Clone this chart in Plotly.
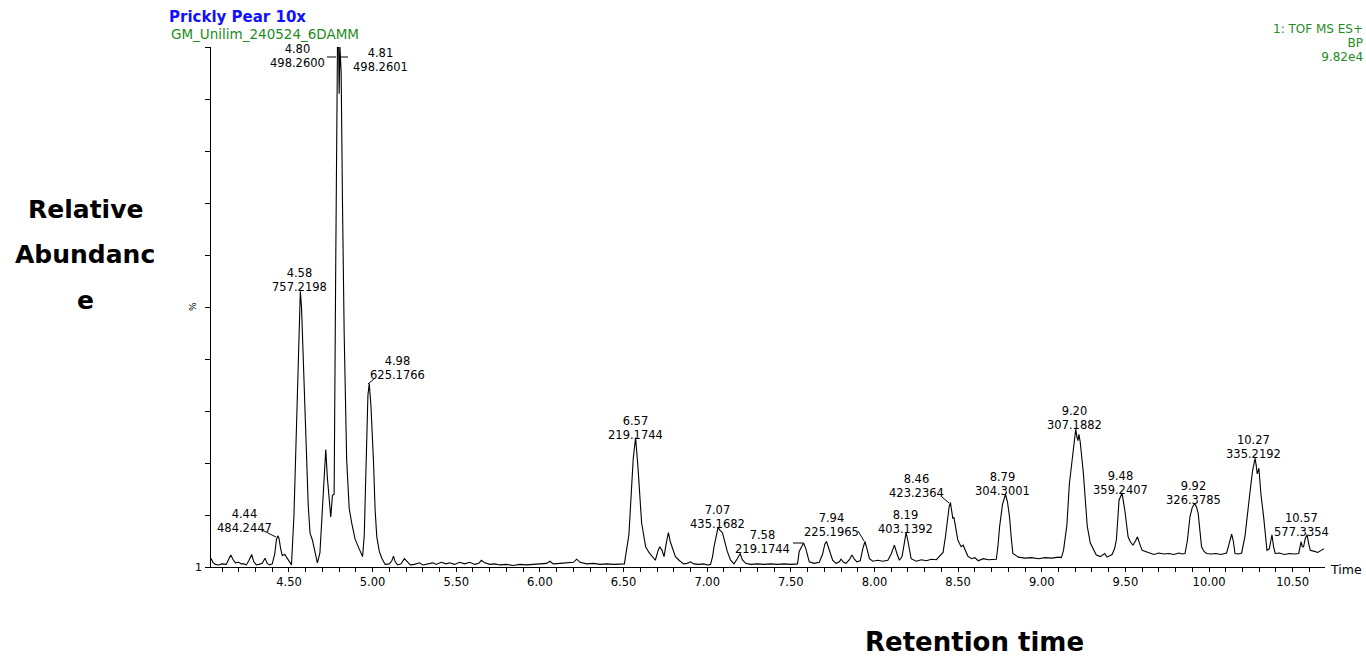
import plotly.graph_objects as go

# ---------------- data ----------------
rt = [4.034, 4.045, 4.06, 4.08, 4.10, 4.125, 4.14, 4.152, 4.165, 4.18, 4.20, 4.215, 4.23, 4.245,
      4.26, 4.277, 4.29, 4.305, 4.32, 4.34, 4.357, 4.37, 4.385, 4.40, 4.415, 4.425, 4.433, 4.44,
      4.45, 4.46, 4.475, 4.49, 4.505, 4.515, 4.53, 4.545, 4.558, 4.568, 4.575, 4.585, 4.60, 4.615,
      4.626, 4.64, 4.655, 4.67, 4.685, 4.70, 4.712, 4.72, 4.73, 4.745, 4.75, 4.76, 4.77, 4.78,
      4.79, 4.797, 4.80, 4.805, 4.812, 4.82, 4.83, 4.845, 4.86, 4.875, 4.895, 4.91, 4.925, 4.94,
      4.95, 4.96, 4.972, 4.98, 4.99, 5.005, 5.015, 5.025, 5.04, 5.055, 5.075, 5.10, 5.115, 5.125,
      5.135, 5.15, 5.17, 5.19, 5.205, 5.225, 5.25, 5.28, 5.30, 5.33, 5.36, 5.38, 5.41, 5.44, 5.46,
      5.49, 5.52, 5.55, 5.58, 5.61, 5.635, 5.65, 5.67, 5.70, 5.73, 5.76, 5.80, 5.84, 5.88, 5.92,
      5.96, 6.00, 6.04, 6.06, 6.08, 6.12, 6.16, 6.20, 6.22, 6.24, 6.28, 6.32, 6.36, 6.40, 6.44,
      6.48, 6.505, 6.532, 6.558, 6.572, 6.586, 6.608, 6.632, 6.652, 6.672, 6.69, 6.705, 6.716,
      6.73, 6.742, 6.755, 6.768, 6.78, 6.792, 6.81, 6.835, 6.86, 6.88, 6.90, 6.92, 6.95, 6.98,
      7.00, 7.02, 7.032, 7.041, 7.055, 7.065, 7.078, 7.091, 7.10, 7.105, 7.12, 7.14, 7.16, 7.18,
      7.197, 7.21, 7.23, 7.26, 7.30, 7.34, 7.38, 7.42, 7.46, 7.50, 7.54, 7.55, 7.562, 7.576, 7.59,
      7.61, 7.64, 7.67, 7.69, 7.703, 7.713, 7.725, 7.75, 7.77, 7.79, 7.80, 7.815, 7.83, 7.85,
      7.865, 7.88, 7.895, 7.915, 7.93, 7.943, 7.955, 7.97, 7.99, 8.02, 8.05, 8.08, 8.10, 8.119,
      8.135, 8.149, 8.165, 8.178, 8.189, 8.20, 8.219, 8.25, 8.28, 8.31, 8.34, 8.37, 8.398, 8.41,
      8.425, 8.434, 8.446, 8.454, 8.462, 8.468, 8.475, 8.485, 8.498, 8.508, 8.518, 8.53, 8.545,
      8.558, 8.58, 8.60, 8.62, 8.65, 8.68, 8.71, 8.728, 8.738, 8.748, 8.765, 8.783, 8.795, 8.807,
      8.818, 8.827, 8.86, 8.90, 8.94, 8.98, 9.02, 9.06, 9.10, 9.117, 9.13, 9.15, 9.165, 9.177,
      9.19, 9.203, 9.21, 9.216, 9.222, 9.23, 9.248, 9.26, 9.272, 9.29, 9.305, 9.326, 9.35, 9.376,
      9.39, 9.40, 9.42, 9.435, 9.446, 9.462, 9.48, 9.496, 9.506, 9.516, 9.53, 9.545, 9.56, 9.572,
      9.585, 9.60, 9.62, 9.64, 9.67, 9.70, 9.73, 9.76, 9.79, 9.82, 9.84, 9.856, 9.87, 9.886, 9.90,
      9.915, 9.925, 9.935, 9.945, 9.955, 9.97, 9.985, 10.01, 10.04, 10.07, 10.09, 10.105, 10.12,
      10.135, 10.145, 10.155, 10.175, 10.195, 10.215, 10.235, 10.245, 10.26, 10.275, 10.282,
      10.288, 10.298, 10.31, 10.326, 10.336, 10.346, 10.36, 10.376, 10.385, 10.395, 10.42, 10.45,
      10.48, 10.51, 10.536, 10.55, 10.557, 10.565, 10.575, 10.586, 10.595, 10.605, 10.63, 10.65,
      10.67, 10.686]

abundance = [1.7, 0.9, 0.5, 0.4, 0.6, 0.5, 1.5, 2.3, 1.5, 0.8, 0.9, 0.6, 0.6, 0.4,
             1.2, 2.4, 1.0, 0.4, 0.5, 0.7, 1.7, 0.7, 0.4, 0.6, 2.5, 5.2, 6.0, 5.6,
             3.6, 2.2, 2.4, 1.6, 0.8, 0.4, 10.0, 27.0, 45.0, 53.0, 50.0, 40.0, 27.0, 12.0,
             6.5, 5.2, 3.0, 0.8, 2.7, 11.0, 20.0, 22.6, 17.0, 10.0, 9.6, 13.8, 14.0, 60.0,
             100.0, 100.0, 91.0, 100.0, 95.0, 70.0, 45.0, 20.6, 11.3, 8.5, 5.4, 4.2, 3.0, 2.0,
             6.0, 20.0, 33.0, 35.3, 31.0, 20.6, 11.0, 5.8, 3.0, 1.7, 0.5, 0.6, 1.2, 2.1,
             1.0, 0.4, 0.6, 1.6, 1.0, 0.4, 0.5, 0.8, 0.4, 0.6, 0.8, 0.5, 0.9, 0.6, 0.8,
             0.5, 0.9, 0.6, 0.9, 0.5, 0.7, 1.3, 0.8, 0.5, 0.6, 0.4, 0.5, 0.3, 0.5, 0.4,
             0.5, 0.5, 0.7, 1.1, 0.6, 0.7, 0.8, 0.9, 1.5, 0.9, 0.6, 0.7, 0.5, 0.6, 0.5,
             0.6, 0.6, 6.2, 20.9, 24.9, 19.3, 8.5, 3.9, 2.8, 2.0, 1.3, 3.0, 3.9,
             3.2, 2.0, 4.5, 6.6, 4.8, 3.6, 2.0, 1.2, 0.6, 0.7, 1.0, 0.6, 0.5, 0.6,
             0.4, 0.5, 2.0, 3.9, 6.5, 7.6, 7.0, 6.6, 5.5, 4.9, 3.0, 1.3, 0.6, 1.6,
             2.6, 1.4, 0.7, 0.5, 0.6, 0.5, 0.6, 0.5, 0.6, 0.5, 0.6, 3.0, 3.9, 4.6, 3.5,
             1.0, 0.7, 0.9, 2.5, 4.4, 4.9, 3.8, 1.3, 0.7, 1.0, 1.5, 0.9, 0.7, 1.4,
             2.3, 1.5, 1.0, 1.2, 3.5, 4.9, 3.5, 1.6, 1.1, 1.3, 1.1, 1.3, 2.5, 4.2,
             2.5, 1.3, 2.0, 5.0, 6.6, 5.0, 1.6, 1.1, 1.4, 1.2, 1.5, 1.4, 2.3, 2.8,
             6.0, 9.0, 11.5, 12.4, 10.5, 9.4, 9.5, 7.5, 5.2, 4.5, 3.9, 4.2, 3.0,
             2.1, 1.6, 1.8, 1.2, 1.6, 1.4, 1.5, 1.5, 4.0, 7.8, 12.0, 14.0, 12.5, 9.7,
             5.5, 2.6, 1.9, 1.7, 1.8, 1.6, 1.8, 1.7, 1.9, 1.8, 3.2, 8.0, 16.0, 19.3,
             24.0, 26.5, 25.0, 24.3, 25.5, 24.0, 18.3, 12.0, 7.8, 4.6, 3.5, 2.3, 2.0, 2.6,
             1.9, 2.1, 2.4, 3.5, 5.2, 12.9, 14.2, 11.0, 8.0, 5.8, 4.8, 4.2, 5.0, 5.8,
             4.5, 3.2, 3.0, 2.7, 2.4, 2.7, 2.5, 2.6, 2.4, 2.7, 2.5, 2.6, 5.0, 9.7, 11.5,
             12.2, 11.5, 10.3, 7.0, 3.9, 3.0, 2.6, 2.5, 2.6, 2.4, 2.6, 2.7, 4.5,
             6.3, 5.0, 2.6, 2.5, 2.7, 6.0, 12.2, 14.5, 18.5, 20.9, 19.5,
             17.9, 19.0, 14.0, 9.7, 6.0, 3.2, 3.5, 6.2, 4.0, 2.6, 2.7, 2.4,
             2.6, 2.5, 2.6, 4.9, 3.9, 3.9, 5.5, 6.2, 4.5, 3.2, 3.0, 2.8,
             3.2, 3.5]

peak_rt = ["4.44", "4.58", "4.80", "4.81", "4.98", "6.57", "7.07", "7.58", "7.94",
           "8.19", "8.46", "8.79", "9.20", "9.48", "9.92", "10.27", "10.57"]
peak_mz = ["484.2447", "757.2198", "498.2600", "498.2601", "625.1766", "219.1744",
           "435.1682", "219.1744", "225.1965", "403.1392", "423.2364", "304.3001",
           "307.1882", "359.2407", "326.3785", "335.2192", "577.3354"]

title_text = "Prickly Pear 10x"
sample_text = "GM_Unilim_240524_6DAMM"
func_text = ["1: TOF MS ES+", "BP", "9.82e4"]

# ---------------- layout geometry ----------------
W, H = 1366, 656
L, R, T, B = 211, 1325, 47, 567   # plot area in pixels


def px(x, y):
    """pixel -> paper coordinates"""
    return (x - L) / (R - L), (B - y) / (B - T)


# label block centres in pixels (x, y)
label_pos = [(244, 521), (299, 280), (297, 56), (380, 60), (397, 368), (635, 428),
             (717, 517), (762, 542), (831, 525), (905, 522), (916, 486), (1002, 484),
             (1074, 418), (1120, 483), (1193, 493), (1253, 447), (1301, 525)]

leaders = [((327, 57), (336, 57)), ((262, 530), (276, 537)), ((340, 57), (348, 57)),
           ((368, 384), (375, 378)), ((793, 543), (803, 543)), ((858, 531), (864, 541)),
           ((942, 497), (949, 503))]

FONT = "DejaVu Sans, Arial, sans-serif"
GREEN = "#1e8c1e"
BLUE = "#1010ff"

fig = go.Figure()
fig.add_trace(go.Scatter(x=rt, y=abundance, mode="lines",
                         line=dict(color="black", width=1.1),
                         cliponaxis=False, hoverinfo="x+y", showlegend=False))

annotations = []


def add_text(x, y, text, size, color="black", bold=False, xanchor="left", angle=0,
             align="left", family=FONT):
    xx, yy = px(x, y)
    t = f"<b>{text}</b>" if bold else text
    annotations.append(dict(xref="paper", yref="paper", x=xx, y=yy, text=t, showarrow=False,
                            xanchor=xanchor, yanchor="middle", textangle=angle, align=align,
                            borderpad=0,
                            font=dict(family=family, size=size, color=color)))


def span(text, size, color=None):
    st = f"font-size:{size}px"
    if color:
        st += f";color:{color}"
    return f"<span style='{st}'>{text}</span>"


# peak labels: base size sets line spacing, spans set glyph size
for (a, b), r_, m_ in zip(label_pos, peak_rt, peak_mz):
    add_text(a, b, span(r_, 11.5) + "<br>" + span(m_, 11.5), 10.5,
             xanchor="center", align="center")

# header texts
add_text(168, 17, title_text, 15, color=BLUE, bold=True)
add_text(170, 34, sample_text, 13.5, color=GREEN)
add_text(1364, 43, "<br>".join(span(t, 12, GREEN) for t in func_text), 10.8,
         color=GREEN, xanchor="right", align="right")

add_text(85, 209, "Relative", 25, bold=True, xanchor="center")
add_text(85, 254, "Abundanc", 25, bold=True, xanchor="center")
add_text(85, 300, "e", 25, bold=True, xanchor="center")
add_text(975, 642, "Retention time", 26, bold=True, xanchor="center")
add_text(1329, 569, "Time", 12.5)
add_text(198, 567, "1", 11, xanchor="center")
add_text(193, 307, "%", 9, xanchor="center", angle=-90)

shapes = []
for (p1, p2) in leaders:
    x0, y0 = px(*p1)
    x1, y1 = px(*p2)
    shapes.append(dict(type="line", xref="paper", yref="paper", x0=x0, y0=y0, x1=x1, y1=y1,
                       line=dict(color="black", width=1)))

fig.update_layout(
    width=W, height=H,
    margin=dict(l=L, r=W - R, t=T, b=H - B),
    paper_bgcolor="white", plot_bgcolor="white",
    annotations=annotations, shapes=shapes,
    xaxis=dict(range=[4.034, 10.693], showgrid=False, zeroline=False,
               showline=True, linecolor="black", linewidth=1,
               ticks="outside", ticklen=4, tickcolor="black", tickwidth=1,
               tick0=0, dtick=0.5, tickformat=".2f",
               tickfont=dict(family=FONT, size=11.5, color="black"),
               minor=dict(dtick=0.1, tick0=0, ticks="outside", ticklen=4,
                          tickcolor="black", tickwidth=1, showgrid=False)),
    yaxis=dict(range=[0, 100], showgrid=False, zeroline=False,
               showline=True, linecolor="black", linewidth=1,
               ticks="outside", ticklen=5, tickcolor="black", tickwidth=1,
               tick0=0, dtick=10, showticklabels=False),
)

fig.write_html("out.html")
